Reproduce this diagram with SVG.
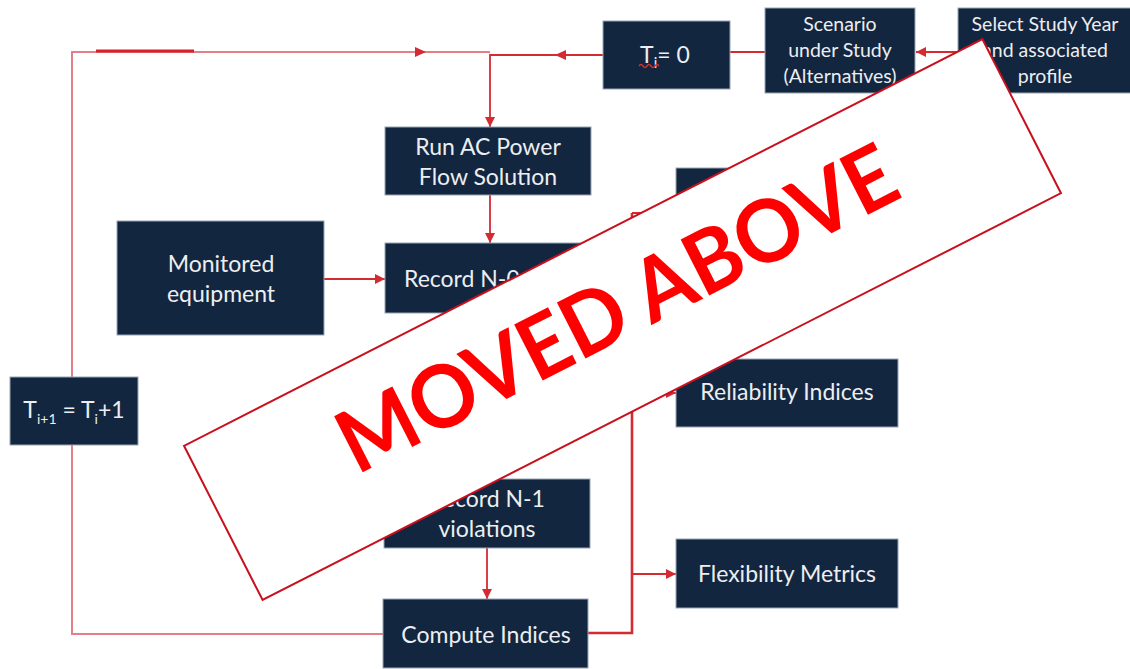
<svg xmlns="http://www.w3.org/2000/svg" width="1130" height="669" viewBox="0 0 1130 669">
<defs>
<marker id="arr" markerWidth="10" markerHeight="10" refX="10" refY="5" orient="auto" markerUnits="userSpaceOnUse">
<path d="M0,0 L10,5 L0,10 z" fill="#d42a32"/>
</marker>
<style>
.box{fill:#13263f;stroke:#9aa5b4;stroke-width:1}
.t{font-family:Lato,"Liberation Sans",sans-serif;fill:#eceef1;font-size:23px;text-anchor:middle}
.ts{font-size:19.5px}
.c{fill:none;stroke:#d42a32;stroke-width:1.8}
.cl{fill:none;stroke:#e57f87;stroke-width:2}
</style>
</defs>
<rect width="1130" height="669" fill="#ffffff"/>
<g id="connectors">
<path class="cl" d="M383,634 H72 V52 H490"/>
<path d="M96,51 H194" stroke="#d6202a" stroke-width="3" fill="none"/>
<polygon points="415,47 426,52 415,57" fill="#d42a32"/>
<path class="c" d="M603,55 H490 V127" marker-end="url(#arr)"/>
<polygon points="566,50 555,55 566,60" fill="#d42a32"/>
<path class="c" d="M765,52 H730"/>
<path class="c" d="M958,52 H916" marker-end="url(#arr)"/>
<path class="c" d="M490,195 V243" marker-end="url(#arr)"/>
<path class="c" d="M324,279 H385" marker-end="url(#arr)"/>
<path class="c" d="M487,548 V599" marker-end="url(#arr)"/>
<path d="M588,633 H632 V213" fill="none" stroke="#d42a32" stroke-width="2.6"/>
<path class="c" d="M632,213 H676" marker-end="url(#arr)"/>
<path class="c" d="M632,393 H676" marker-end="url(#arr)"/>
<path class="c" d="M632,574 H676" marker-end="url(#arr)"/>
</g>
<g id="node-t0">
<rect class="box" x="603" y="21" width="127" height="68"/>
<text class="t" x="665" y="63">T<tspan font-size="15" dy="5">i</tspan><tspan dy="-5">= 0</tspan></text>
<path d="M639,66 q2,-3 4,0 t4,0 t4,0 t4,0 t4,0" fill="none" stroke="#d03030" stroke-width="1.4"/>
</g>
<g id="node-scenario">
<rect class="box" x="765" y="8" width="150" height="85"/>
<text class="t ts" x="840" y="31">Scenario</text>
<text class="t ts" x="840" y="57">under Study</text>
<text class="t ts" x="840" y="83">(Alternatives)</text>
</g>
<g id="node-select">
<rect class="box" x="958" y="8" width="175" height="85"/>
<text class="t ts" x="1045" y="31">Select Study Year</text>
<text class="t ts" x="1045" y="57">and associated</text>
<text class="t ts" x="1045" y="83">profile</text>
</g>
<g id="node-runac">
<rect class="box" x="385" y="127" width="206" height="68"/>
<text class="t" x="488" y="155">Run AC Power</text>
<text class="t" x="488" y="185">Flow Solution</text>
</g>
<g id="node-monitored">
<rect class="box" x="117" y="221" width="207" height="114"/>
<text class="t" x="221" y="272">Monitored</text>
<text class="t" x="221" y="302">equipment</text>
</g>
<g id="node-recordn0">
<rect class="box" x="385" y="243" width="206" height="70"/>
<text class="t" x="404" y="287" text-anchor="start" style="text-anchor:start">Record N-0</text>
</g>
<g id="node-hidden-top">
<rect class="box" x="676" y="168" width="222" height="68"/>
</g>
<g id="node-tnext">
<rect class="box" x="10" y="377" width="128" height="68"/>
<text class="t" x="74" y="418" font-size="22">T<tspan font-size="14" dy="6">i+1</tspan><tspan dy="-6"> = T</tspan><tspan font-size="14" dy="6">i</tspan><tspan dy="-6">+1</tspan></text>
</g>
<g id="node-reliability">
<rect class="box" x="676" y="359" width="222" height="68"/>
<text class="t" x="787" y="400">Reliability Indices</text>
</g>
<g id="node-recordn1">
<rect class="box" x="384" y="479" width="206" height="69"/>
<text class="t" x="487" y="507">Record N-1</text>
<text class="t" x="487" y="537">violations</text>
</g>
<g id="node-flex">
<rect class="box" x="676" y="539" width="222" height="69"/>
<text class="t" x="787" y="582">Flexibility Metrics</text>
</g>
<g id="node-compute">
<rect class="box" x="383" y="599" width="205" height="69"/>
<text class="t" x="486" y="643">Compute Indices</text>
</g>
<g id="banner" transform="translate(622.5,319.5) rotate(-27)">
<rect x="-448" y="-86.5" width="896" height="173" fill="#ffffff" stroke="#c8101e" stroke-width="2"/>
<text x="0" y="18" text-anchor="middle" font-family="Lato,'Liberation Sans',sans-serif" font-weight="bold" font-size="87" fill="#ff0000" textLength="615" lengthAdjust="spacingAndGlyphs">MOVED ABOVE</text>
</g>
</svg>
